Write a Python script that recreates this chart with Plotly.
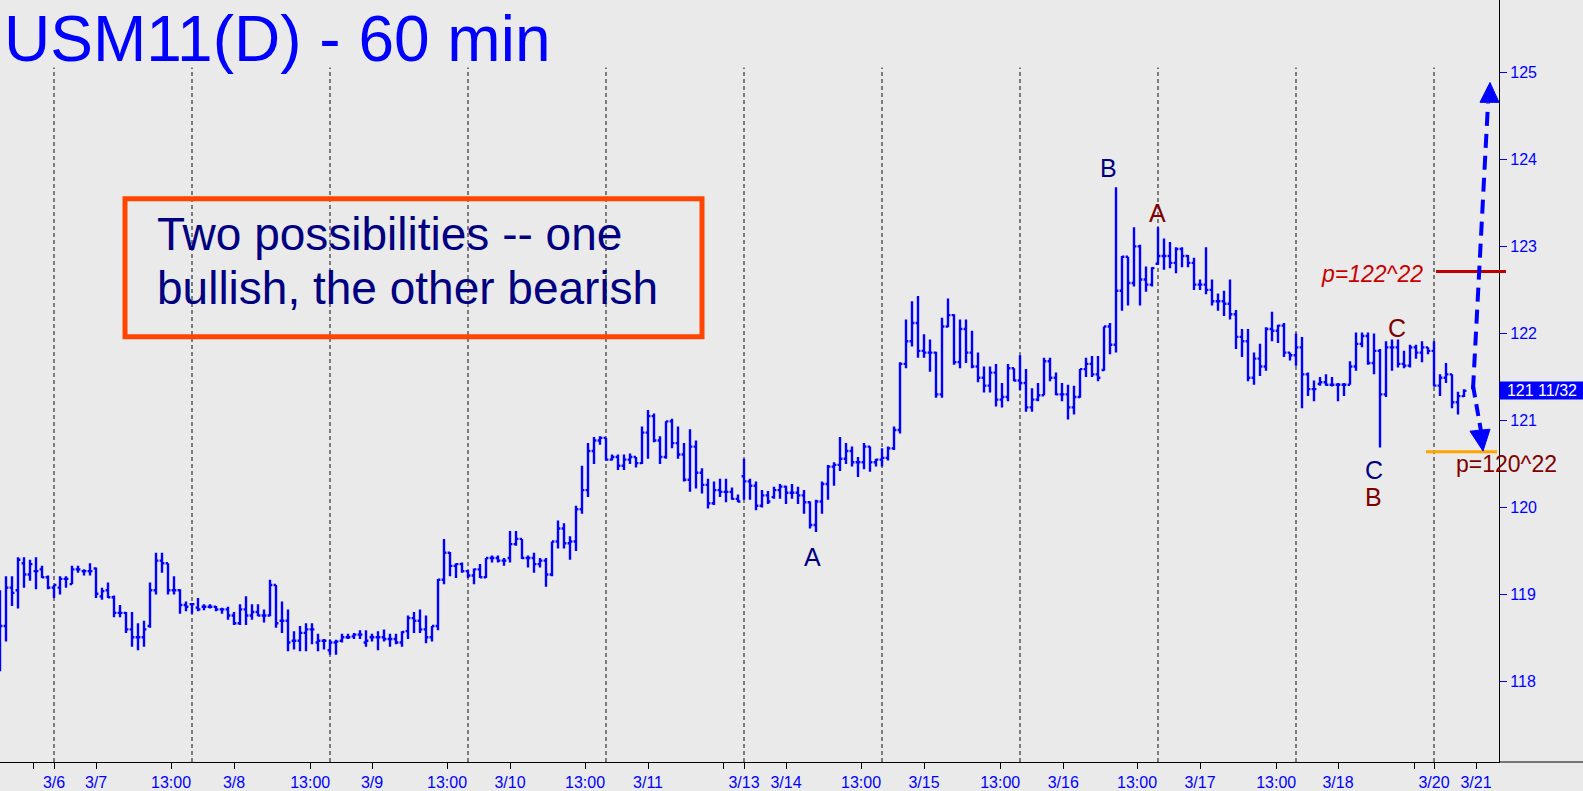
import plotly.graph_objects as go

# ---------------- data ----------------
opens = [
118.90,118.64,119.08,119.05,119.36,119.23,119.27,119.29,119.20,119.08,
119.08,119.18,119.12,119.29,119.27,119.27,119.30,118.98,119.05,118.97,
118.79,118.79,118.60,118.51,118.51,118.64,119.05,119.39,119.36,119.05,
119.05,118.88,118.89,118.85,118.86,118.86,118.86,118.83,118.83,118.76,
118.67,118.83,118.76,118.80,118.76,118.76,119.11,118.70,118.70,118.47,
118.47,118.56,118.60,118.45,118.47,118.36,118.45,118.47,118.51,118.52,
118.54,118.45,118.51,118.51,118.51,118.49,118.49,118.45,118.58,118.73,
118.70,118.60,118.51,118.64,119.17,119.48,119.33,119.35,119.27,119.22,
119.29,119.20,119.42,119.42,119.39,119.42,119.58,119.64,119.42,119.42,
119.35,119.39,119.23,119.61,119.76,119.59,119.61,119.98,120.20,120.65,
120.77,120.80,120.55,120.58,120.48,120.55,120.58,120.51,120.86,121.05,
120.77,120.58,120.99,120.74,120.61,120.32,120.70,120.40,120.26,120.05,
120.20,120.18,120.18,120.10,120.36,120.30,120.25,120.02,120.14,120.12,
120.20,120.24,120.17,120.17,120.14,120.06,119.80,120.07,120.27,120.47,
120.49,120.56,120.65,120.52,120.52,120.70,120.52,120.55,120.57,120.68,
120.89,121.65,121.91,122.12,121.80,121.78,121.78,121.30,122.08,122.21,
121.67,122.05,121.78,121.62,121.49,121.40,121.55,121.24,121.27,121.60,
121.46,121.43,121.15,121.24,121.29,121.68,121.49,121.30,121.30,121.15,
121.27,121.59,121.65,121.53,121.58,122.08,121.87,122.49,122.88,122.58,
123.00,122.62,122.56,122.80,122.89,122.89,122.81,122.97,122.89,122.81,
122.56,122.56,122.50,122.37,122.37,122.34,122.22,121.96,121.91,121.49,
121.71,121.62,122.05,122.03,122.09,121.78,121.75,121.84,121.53,121.36,
121.42,121.44,121.41,121.41,121.41,121.41,121.62,121.88,121.97,121.66,
121.80,121.30,121.84,121.84,121.65,121.63,121.84,121.78,121.84,121.80,
121.40,121.49,121.53,121.21,121.28]

highs = [
119.05,119.21,119.21,119.43,119.43,119.40,119.43,119.33,119.22,119.11,
119.21,119.21,119.33,119.33,119.29,119.36,119.31,119.08,119.14,118.99,
118.88,118.80,118.80,118.67,118.70,119.14,119.48,119.48,119.36,119.21,
119.06,118.92,118.90,118.96,118.89,118.89,118.87,118.85,118.86,118.80,
118.89,118.98,118.89,118.89,118.83,119.17,119.11,118.92,118.83,118.58,
118.64,118.67,118.67,118.55,118.49,118.48,118.48,118.55,118.55,118.56,
118.59,118.59,118.55,118.58,118.60,118.55,118.55,118.58,118.76,118.80,
118.83,118.76,118.64,119.18,119.64,119.49,119.36,119.37,119.28,119.30,
119.35,119.42,119.45,119.45,119.42,119.73,119.73,119.64,119.45,119.48,
119.42,119.42,119.61,119.85,119.82,119.67,120.02,120.48,120.74,120.81,
120.82,120.80,120.61,120.61,120.61,120.62,120.58,120.93,121.12,121.08,
120.82,120.99,121.02,120.93,120.74,120.90,120.77,120.45,120.33,120.30,
120.33,120.33,120.23,120.15,120.56,120.33,120.30,120.20,120.19,120.24,
120.27,120.25,120.27,120.24,120.20,120.07,120.09,120.30,120.49,120.52,
120.81,120.74,120.70,120.58,120.74,120.70,120.56,120.68,120.70,120.93,
121.67,122.16,122.37,122.43,121.99,121.93,121.79,122.18,122.40,122.22,
122.16,122.16,122.03,121.78,121.62,121.62,121.65,121.43,121.65,121.60,
121.75,121.59,121.37,121.43,121.72,121.72,121.55,121.43,121.41,121.40,
121.59,121.72,121.74,121.74,122.08,122.12,123.68,122.89,122.88,123.22,
123.02,122.77,122.76,123.22,123.09,123.05,122.99,122.99,122.90,122.87,
122.62,122.99,122.62,122.46,122.49,122.62,122.27,122.05,122.05,121.78,
121.88,122.07,122.25,122.10,122.12,121.78,122.00,121.96,121.55,121.46,
121.50,121.53,121.50,121.43,121.43,121.68,122.01,122.01,122.01,122.00,
121.82,121.91,121.93,121.93,121.80,121.87,121.87,121.91,121.84,121.91,
121.53,121.66,121.53,121.33,121.36]

lows = [
118.12,118.46,118.87,118.84,119.08,119.16,119.06,119.19,119.06,118.96,
119.00,119.08,119.12,119.25,119.22,119.22,118.96,118.94,118.96,118.74,
118.74,118.56,118.40,118.36,118.40,118.62,119.00,119.25,119.00,119.00,
118.78,118.81,118.78,118.81,118.82,118.84,118.81,118.78,118.71,118.65,
118.65,118.65,118.71,118.75,118.68,118.75,118.62,118.56,118.35,118.37,
118.35,118.35,118.43,118.35,118.37,118.31,118.31,118.45,118.49,118.49,
118.49,118.40,118.46,118.36,118.46,118.40,118.43,118.40,118.49,118.56,
118.56,118.44,118.46,118.59,119.12,119.21,119.19,119.25,119.19,119.12,
119.19,119.19,119.37,119.37,119.33,119.37,119.56,119.41,119.31,119.25,
119.31,119.09,119.21,119.53,119.53,119.40,119.50,119.93,120.12,120.50,
120.72,120.54,120.54,120.43,120.43,120.50,120.46,120.50,120.56,120.75,
120.50,120.56,120.68,120.56,120.30,120.18,120.22,120.16,119.99,120.03,
120.12,120.06,120.09,120.06,120.09,120.09,119.97,120.00,120.04,120.10,
120.10,120.04,120.10,120.04,119.93,119.76,119.72,119.93,120.09,120.25,
120.42,120.50,120.47,120.35,120.44,120.41,120.47,120.47,120.54,120.66,
120.85,121.60,121.85,121.72,121.72,121.56,121.26,121.26,122.07,121.64,
121.60,121.66,121.60,121.44,121.32,121.32,121.16,121.15,121.22,121.45,
121.35,121.10,121.10,121.22,121.29,121.45,121.29,121.22,121.01,121.07,
121.26,121.50,121.50,121.45,121.57,121.76,121.78,122.26,122.32,122.54,
122.32,122.48,122.54,122.79,122.73,122.75,122.69,122.76,122.76,122.50,
122.50,122.45,122.32,122.26,122.20,122.16,121.82,121.73,121.45,121.41,
121.51,121.57,121.91,121.89,121.73,121.69,121.63,121.14,121.28,121.22,
121.40,121.40,121.39,121.22,121.28,121.41,121.57,121.84,121.64,121.53,
120.69,121.27,121.57,121.61,121.60,121.61,121.71,121.67,121.76,121.39,
121.28,121.43,121.14,121.07,121.27]

closes = [
118.64,119.08,119.02,119.40,119.23,119.35,119.27,119.20,119.08,119.11,
119.18,119.18,119.29,119.29,119.27,119.27,119.01,119.04,118.97,118.79,
118.79,118.60,118.51,118.51,118.60,119.05,119.39,119.36,119.05,119.05,
118.88,118.86,118.89,118.83,118.86,118.86,118.83,118.83,118.76,118.67,
118.83,118.76,118.80,118.76,118.76,119.11,118.67,118.70,118.45,118.47,
118.56,118.60,118.60,118.47,118.47,118.45,118.46,118.51,118.51,118.54,
118.54,118.47,118.51,118.51,118.49,118.49,118.45,118.57,118.73,118.70,
118.60,118.51,118.64,119.17,119.48,119.33,119.35,119.27,119.22,119.29,
119.20,119.42,119.42,119.39,119.39,119.58,119.64,119.42,119.42,119.35,
119.39,119.23,119.61,119.76,119.59,119.61,119.98,120.20,120.65,120.77,
120.80,120.55,120.58,120.48,120.55,120.58,120.51,120.86,121.05,120.77,
120.58,120.99,120.74,120.61,120.32,120.70,120.40,120.26,120.05,120.20,
120.18,120.18,120.10,120.07,120.30,120.25,120.02,120.14,120.07,120.20,
120.24,120.17,120.17,120.14,120.06,119.80,120.07,120.27,120.47,120.49,
120.56,120.65,120.52,120.52,120.70,120.52,120.55,120.57,120.68,120.89,
121.65,121.91,122.12,121.80,121.78,121.78,121.30,122.08,122.21,121.67,
122.05,121.78,121.62,121.49,121.40,121.55,121.24,121.27,121.60,121.46,
121.43,121.15,121.24,121.29,121.68,121.49,121.30,121.30,121.15,121.27,
121.59,121.65,121.53,121.49,122.08,121.87,122.49,122.88,122.58,123.00,
122.62,122.56,122.75,122.89,122.89,122.81,122.97,122.89,122.81,122.56,
122.56,122.50,122.37,122.37,122.34,122.22,121.96,121.91,121.49,121.71,
121.62,122.05,122.03,122.09,121.78,121.75,121.84,121.53,121.36,121.36,
121.44,121.41,121.41,121.41,121.41,121.62,121.88,121.97,121.66,121.80,
121.30,121.84,121.84,121.65,121.63,121.84,121.78,121.84,121.80,121.40,
121.49,121.53,121.21,121.28,121.34]

# bar index where each session starts (dashed separators)
session_breaks = [9, 32, 55, 78, 101, 124, 147, 170, 193, 216, 239]

# x-axis tick positions (bar index) and their labels
tick_pos = [5.6, 9, 16, 28.5, 39, 51.7, 62, 74.5, 85, 97.5, 108, 120.5, 124, 131,
            143.5, 154, 166.7, 177.2, 189.5, 200, 212.7, 223, 235.7, 239, 246]
tick_labels = ["", "3/6", "3/7", "13:00", "3/8", "13:00", "3/9", "13:00", "3/10",
               "13:00", "3/11", "", "3/13", "3/14", "13:00", "3/15", "13:00", "3/16",
               "13:00", "3/17", "13:00", "3/18", "", "3/20", "3/21"]

y_ticks = [118, 119, 120, 121, 122, 123, 124, 125]
last_price = 121 + 11 / 32
last_price_label = "121 11/32"
target_high = 122.71   # p=122^22 line
target_low = 120.64    # p=120^22 line

# ---------------- layout geometry ----------------
W, H = 1583, 791
PLOT_W, PLOT_H = 1499, 767
Y_RANGE = [117.077, 125.83]
X_RANGE = [0, PLOT_W / 6.0]

def px(x):
    return x / PLOT_W

def py(y):
    return 1 - y / PLOT_H

FONT = "Liberation Sans, Arial, sans-serif"
BLUE = "#0000FF"
NAVY = "#000080"
MAROON = "#800000"
BG = "#EAEAEA"

fig = go.Figure()
fig.add_trace(go.Ohlc(
    x=list(range(len(opens))), open=opens, high=highs, low=lows, close=closes,
    line=dict(width=2.4),
    increasing=dict(line=dict(color=BLUE, width=2.4)),
    decreasing=dict(line=dict(color=BLUE, width=2.4)),
    tickwidth=0.4, hoverinfo="skip", showlegend=False,
))

shapes = []
for b in session_breaks:
    shapes.append(dict(type="line", xref="x", yref="y", x0=b, x1=b,
                       y0=Y_RANGE[0], y1=125.054, layer="below",
                       line=dict(color="#333333", width=1.2, dash="4px,3px")))

# extend bottom axis line to the right edge
shapes.append(dict(type="line", xref="paper", yref="paper", x0=1, x1=W / PLOT_W,
                   y0=0, y1=0, line=dict(color="black", width=1.2)))

# text box border
shapes.append(dict(type="rect", xref="paper", yref="paper",
                   x0=px(125), x1=px(702), y0=py(339), y1=py(200),
                   line=dict(color="#FF4500", width=5), fillcolor="rgba(0,0,0,0)"))

# target lines
shapes.append(dict(type="line", xref="paper", yref="y", x0=px(1436), x1=px(1506),
                   y0=target_high, y1=target_high, line=dict(color="#C00000", width=3)))
shapes.append(dict(type="line", xref="paper", yref="y", x0=px(1426), x1=px(1497),
                   y0=target_low, y1=target_low, line=dict(color="#FFA500", width=3)))

# dashed arrows
shapes.append(dict(type="line", xref="paper", yref="paper",
                   x0=px(1473), y0=py(392), x1=px(1488), y1=py(104),
                   line=dict(color=BLUE, width=4, dash="14px,8px")))
shapes.append(dict(type="line", xref="paper", yref="paper",
                   x0=px(1473), y0=py(388), x1=px(1481), y1=py(434),
                   line=dict(color=BLUE, width=4, dash="12px,7px")))

def tri(pts):
    s = "M " + " L ".join(f"{px(a):.5f},{py(b):.5f}" for a, b in pts) + " Z"
    return dict(type="path", xref="paper", yref="paper", path=s,
                fillcolor=BLUE, line=dict(color=BLUE, width=1))

shapes.append(tri([(1490, 83), (1480, 103), (1499, 103)]))
shapes.append(tri([(1470, 434), (1490, 432), (1483, 454)]))

annotations = []

def label(text, x, y, size, color, xanchor="center"):
    annotations.append(dict(text=text, xref="paper", yref="paper", x=px(x), y=py(y),
                            xanchor=xanchor, yanchor="middle", showarrow=False,
                            font=dict(family=FONT, size=size, color=color)))

label("USM11(D) - 60 min", 2, 39, 64, BLUE, "left")
label("Two possibilities -- one", 155, 236, 46, NAVY, "left")
label("bullish, the other bearish", 155, 290, 46, NAVY, "left")
label("A", 812, 561, 25, NAVY)
label("B", 1108, 169, 25, NAVY)
label("A", 1157, 214, 25, MAROON)
label("C", 1374, 473, 25, NAVY)
label("B", 1373, 500, 25, MAROON)
label("C", 1397, 330, 25, MAROON)
label("<i>p=122^22</i>", 1425, 276, 23, "#C80000", "right")
label("p=120^22", 1454, 467, 23, MAROON, "left")

annotations.append(dict(text=last_price_label, xref="paper", yref="y", x=1, y=last_price,
                        xanchor="left", yanchor="middle", showarrow=False,
                        width=84, height=17, borderpad=0, bgcolor=BLUE, align="center",
                        font=dict(family=FONT, size=16, color="white")))

fig.update_layout(
    width=W, height=H, autosize=False,
    margin=dict(l=0, r=W - PLOT_W, t=0, b=H - PLOT_H, pad=0),
    paper_bgcolor=BG, plot_bgcolor=BG,
    font=dict(family=FONT, color=BLUE),
    showlegend=False,
    shapes=shapes, annotations=annotations,
    xaxis=dict(range=X_RANGE, tickmode="array", tickvals=tick_pos, ticktext=tick_labels,
               ticks="outside", ticklen=6, tickcolor="black", tickwidth=1,
               showline=True, linecolor="black", linewidth=1.2,
               showgrid=False, zeroline=False, rangeslider=dict(visible=False),
               tickfont=dict(family=FONT, size=16, color=BLUE), fixedrange=True),
    yaxis=dict(range=Y_RANGE, side="right", tickmode="array", tickvals=y_ticks,
               ticks="outside", ticklen=7, tickcolor=BLUE, tickwidth=1,
               showline=True, linecolor="black", linewidth=1.2,
               showgrid=False, zeroline=False,
               tickfont=dict(family=FONT, size=16, color=BLUE), fixedrange=True),
)

fig.write_html("out.html", config={"displayModeBar": False},
               post_script="document.body.style.margin='0';document.body.style.overflow='hidden';")
